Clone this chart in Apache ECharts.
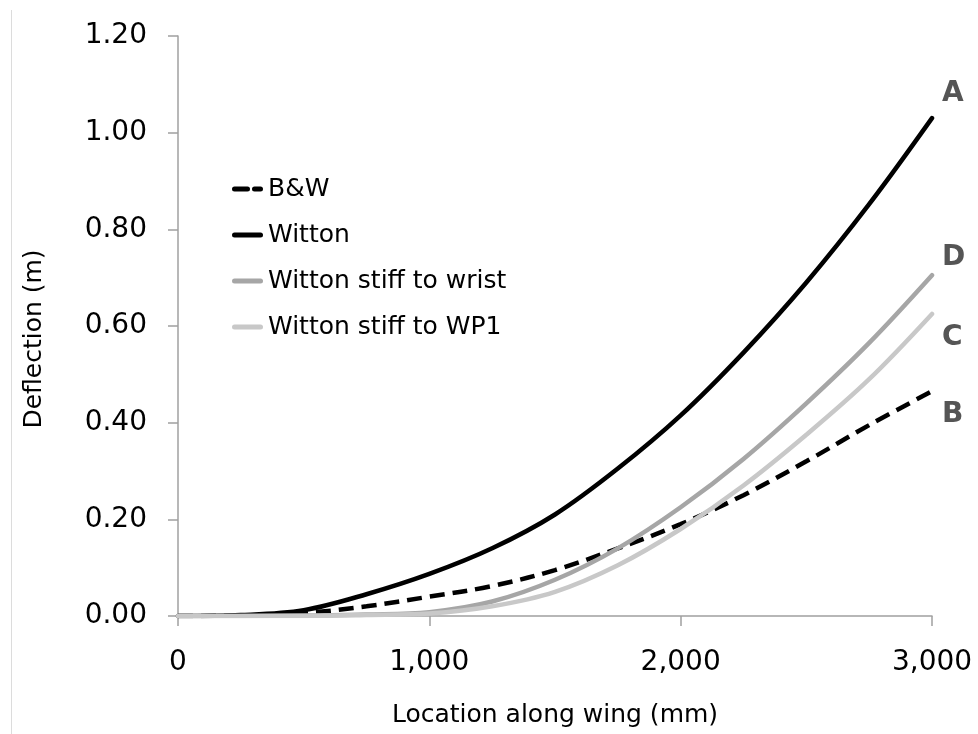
<!DOCTYPE html>
<html>
<head>
<meta charset="utf-8">
<script src="https://cdn.jsdelivr.net/npm/echarts@6/dist/echarts.min.js"></script>
<style>html,body{margin:0;padding:0;background:#fff;}#c{width:978px;height:734px;}</style>
</head>
<body>
<div id="c"></div>
<script>
const locations = [0, 250, 500, 750, 1000, 1250, 1500, 1750, 2000, 2250, 2500, 2750, 3000];
const bw        = [0, 0.001, 0.006, 0.02, 0.04, 0.062, 0.095, 0.14, 0.19, 0.25, 0.32, 0.395, 0.465];
const witton    = [0, 0.002, 0.012, 0.045, 0.087, 0.14, 0.21, 0.305, 0.415, 0.545, 0.69, 0.852, 1.03];
const stiffWrist= [0, 0, 0.001, 0.003, 0.008, 0.03, 0.075, 0.14, 0.225, 0.325, 0.44, 0.565, 0.705];
const stiffWP1  = [0, 0, 0, 0.002, 0.005, 0.02, 0.05, 0.105, 0.18, 0.27, 0.375, 0.49, 0.625];
const seriesNames = ['B&W', 'Witton', 'Witton stiff to wrist', 'Witton stiff to WP1'];
const endLetters = ['B', 'A', 'D', 'C'];
const yTicks = [0, 0.2, 0.4, 0.6, 0.8, 1.0, 1.2];
const xTicks = [0, 1000, 2000, 3000];

const FONT = 'DejaVu Sans, Verdana, sans-serif';
const pair = arr => locations.map((x, i) => [x, arr[i]]);

const styles = [
  {color: '#000000', type: [15, 8], width: 4.5, cap: 'butt'},
  {color: '#000000', type: 'solid', width: 4.5, cap: 'round'},
  {color: '#a6a6a6', type: 'solid', width: 4.5, cap: 'round'},
  {color: '#c8c8c8', type: 'solid', width: 4.5, cap: 'round'}
];
const dashedIcon = 'path://M2.5,0 H15.5 A2.5,2.5 0 0 1 15.5,5 H2.5 A2.5,2.5 0 0 1 2.5,0 Z M22.5,0 H28.5 A2.5,2.5 0 0 1 28.5,5 H22.5 A2.5,2.5 0 0 1 22.5,0 Z';
const solidIcon = 'path://M2.5,0 H28.5 A2.5,2.5 0 0 1 28.5,5 H2.5 A2.5,2.5 0 0 1 2.5,0 Z';
const legendIcons = [dashedIcon, solidIcon, solidIcon, solidIcon];
const labelOffsets = [[0, 23], [0, -24], [0, -18], [0, 24]];
const datasets = [bw, witton, stiffWrist, stiffWP1];

const chart = echarts.init(document.getElementById('c'), null, {renderer: 'canvas'});
chart.setOption({
  animation: false,
  backgroundColor: '#ffffff',
  grid: {left: 178, right: 46, top: 36, bottom: 118, containLabel: false},
  legend: {
    orient: 'vertical',
    left: 227,
    top: 171.5,
    itemWidth: 31,
    itemHeight: 5,
    itemGap: 21,
    data: seriesNames.map((n, i) => ({name: n, icon: legendIcons[i], itemStyle: {color: styles[i].color, borderWidth: 0}})),
    textStyle: {fontFamily: FONT, fontSize: 25, color: '#000'}
  },
  xAxis: {
    type: 'value',
    min: 0, max: 3000, interval: 1000,
    name: 'Location along wing (mm)',
    nameLocation: 'middle',
    nameGap: 87,
    nameTextStyle: {fontFamily: FONT, fontSize: 25, color: '#000'},
    axisLine: {show: true, lineStyle: {color: '#a0a0a0', width: 1.5}},
    axisTick: {show: true, length: 10, lineStyle: {color: '#a0a0a0', width: 1.5}},
    axisLabel: {fontFamily: FONT, fontSize: 28, color: '#000', margin: 33,
      formatter: v => v.toLocaleString('en-US')},
    splitLine: {show: false}
  },
  yAxis: {
    type: 'value',
    min: 0, max: 1.2, interval: 0.2,
    name: 'Deflection (m)',
    nameLocation: 'middle',
    nameGap: 131,
    nameTextStyle: {fontFamily: FONT, fontSize: 25, color: '#000', padding: [0, 26, 0, 0]},
    axisLine: {show: true, lineStyle: {color: '#a0a0a0', width: 1.5}},
    axisTick: {show: true, length: 10, lineStyle: {color: '#a0a0a0', width: 1.5}},
    axisLabel: {fontFamily: FONT, fontSize: 28, color: '#000', margin: 31,
      formatter: v => v.toFixed(2)},
    splitLine: {show: false}
  },
  graphic: [{
    type: 'line', shape: {x1: 11.5, y1: 10, x2: 11.5, y2: 734},
    style: {stroke: '#dcdcdc', lineWidth: 1}, silent: true
  }],
  series: seriesNames.map((name, i) => ({
    name: name,
    type: 'line',
    data: pair(datasets[i]),
    smooth: 0.35,
    showSymbol: false,
    symbol: 'none',
    lineStyle: {color: styles[i].color, type: styles[i].type, width: styles[i].width, cap: styles[i].cap},
    itemStyle: {color: styles[i].color},
    endLabel: {
      show: true,
      formatter: endLetters[i],
      distance: 10,
      offset: labelOffsets[i],
      fontFamily: FONT,
      fontSize: 28,
      fontWeight: 'bold',
      color: '#555555'
    }
  }))
});
</script>
</body>
</html>
